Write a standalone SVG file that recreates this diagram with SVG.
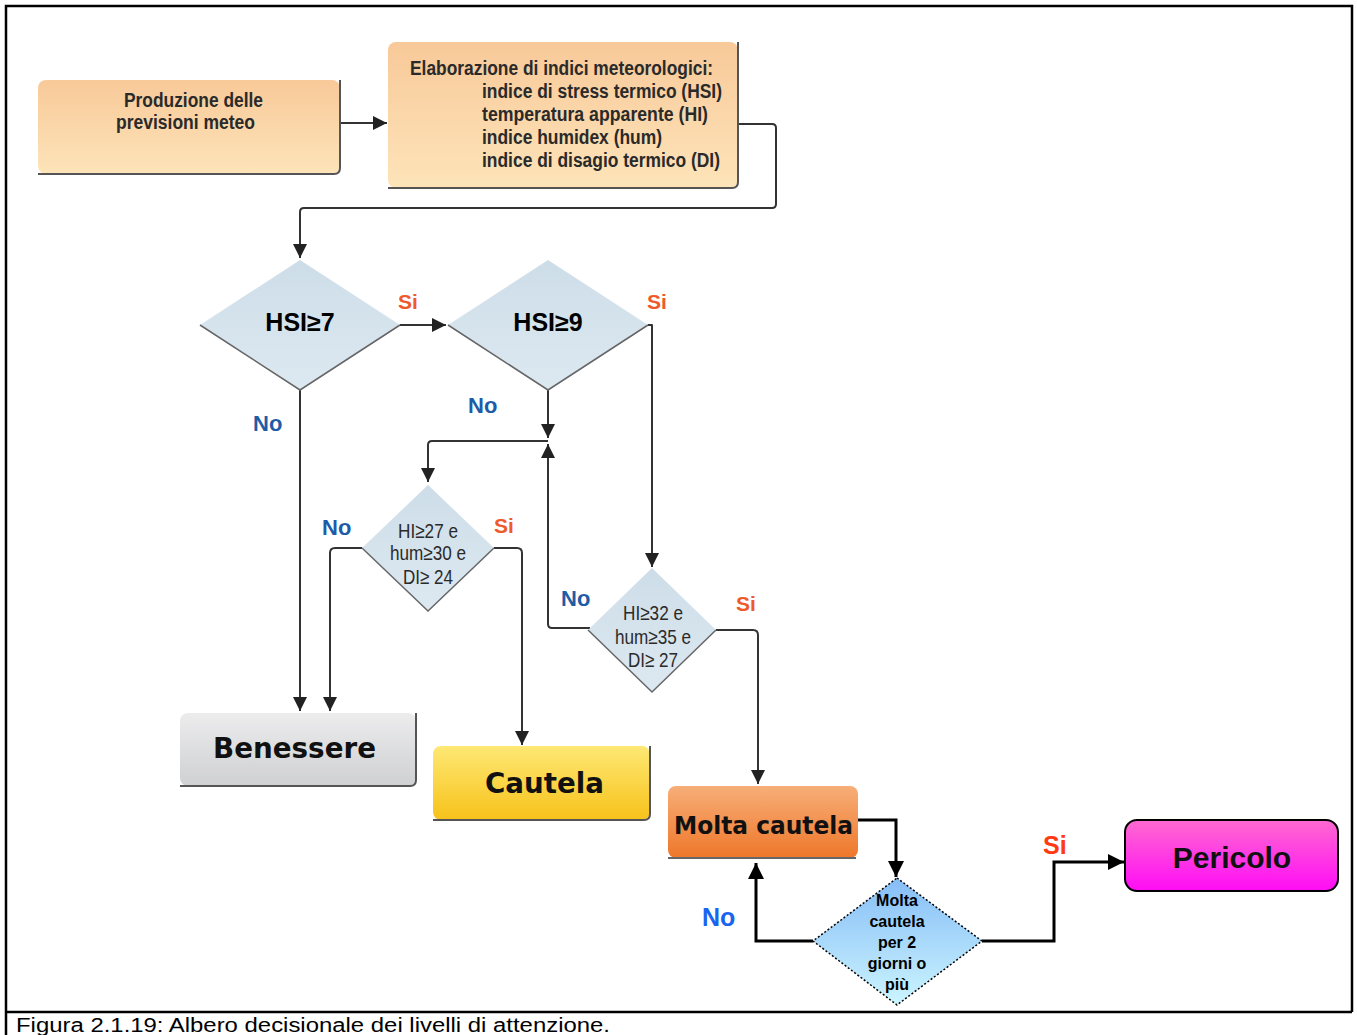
<svg xmlns="http://www.w3.org/2000/svg" width="1357" height="1035" viewBox="0 0 1357 1035">
<defs>
<linearGradient id="gPeach" x1="0" y1="0" x2="0" y2="1"><stop offset="0" stop-color="#f8c999"/><stop offset="1" stop-color="#fde4b9"/></linearGradient>
<linearGradient id="gDia" x1="0" y1="0" x2="0" y2="1"><stop offset="0" stop-color="#cddde8"/><stop offset="1" stop-color="#dde9f1"/></linearGradient>
<linearGradient id="gGrey" x1="0" y1="0" x2="0" y2="1"><stop offset="0" stop-color="#ececed"/><stop offset="1" stop-color="#cfd0d2"/></linearGradient>
<linearGradient id="gYel" x1="0" y1="0" x2="0" y2="1"><stop offset="0" stop-color="#fee874"/><stop offset="1" stop-color="#f7c21a"/></linearGradient>
<linearGradient id="gOr" x1="0" y1="0" x2="0" y2="1"><stop offset="0" stop-color="#f7ae78"/><stop offset="1" stop-color="#ee772a"/></linearGradient>
<linearGradient id="gBlue" x1="0" y1="0" x2="0" y2="1"><stop offset="0" stop-color="#86bdf6"/><stop offset="1" stop-color="#ccf5ff"/></linearGradient>
<linearGradient id="gMag" x1="0" y1="0" x2="0" y2="1"><stop offset="0" stop-color="#ff6ad0"/><stop offset="1" stop-color="#ff0cf6"/></linearGradient>
<marker id="ah" viewBox="0 0 10 10" refX="10" refY="5" markerWidth="14" markerHeight="14" markerUnits="userSpaceOnUse" orient="auto"><path d="M0,0 L10,5 L0,10 z" fill="#222"/></marker>
<marker id="ahB" viewBox="0 0 10 10" refX="10" refY="5" markerWidth="16" markerHeight="16" markerUnits="userSpaceOnUse" orient="auto"><path d="M0,0 L10,5 L0,10 z" fill="#000"/></marker>
</defs>
<style>
.cond{font-family:"Liberation Sans",Arial,sans-serif;font-weight:bold;fill:#2a2a2a;}
.dtx{font-family:"Liberation Sans",Arial,sans-serif;font-size:21px;fill:#2a2a2a;}
.cl{fill:none;stroke:#333;stroke-width:2;stroke-linejoin:round;}
.cb{fill:none;stroke:#000;stroke-width:3;}
.shadow{fill:none;stroke:#555;stroke-width:2;}
.dia{fill:url(#gDia);}
.diaEdge{fill:none;stroke:#666;stroke-width:1.5;}
.hsi{font-family:"Liberation Sans",Arial,sans-serif;font-weight:bold;font-size:25px;fill:#000;}
.si{font-family:"Liberation Sans",Arial,sans-serif;font-weight:bold;font-size:21px;fill:#ee5a2c;}
.no{font-family:"Liberation Sans",Arial,sans-serif;font-weight:bold;font-size:22px;fill:#1f5ca6;}
.lvl{font-family:"DejaVu Sans",Verdana,sans-serif;font-weight:bold;fill:#111;}
</style>
<rect x="0" y="0" width="1357" height="1035" fill="#fff"/>
<g id="frame">
<path d="M6,1035 L6,6 L1352,6 L1352,1012" fill="none" stroke="#000" stroke-width="2.5"/>
<line x1="6" y1="1012" x2="1352" y2="1012" stroke="#000" stroke-width="2.5"/>
<text x="16" y="1032" font-family="Liberation Sans,Arial,sans-serif" font-size="20" fill="#000" textLength="594" lengthAdjust="spacingAndGlyphs">Figura 2.1.19: Albero decisionale dei livelli di attenzione.</text>
</g>
<g id="connectors">
<line class="cl" x1="340" y1="123" x2="387" y2="123" marker-end="url(#ah)"/>
<path class="cl" d="M738,124 L772,124 Q776,124 776,128 L776,204 Q776,208 772,208 L304,208 Q300,208 300,212 L300,258" marker-end="url(#ah)"/>
<line class="cl" x1="400" y1="325" x2="446" y2="325" marker-end="url(#ah)"/>
<line class="cl" x1="300" y1="390" x2="300" y2="711" marker-end="url(#ah)"/>
<line class="cl" x1="548" y1="390" x2="548" y2="438" marker-end="url(#ah)"/>
<path class="cl" d="M548,441 L432,441 Q428,441 428,445 L428,482" marker-end="url(#ah)"/>
<path class="cl" d="M590,628 L552,628 Q548,628 548,624 L548,444" marker-end="url(#ah)"/>
<path class="cl" d="M648,325 L652,325 L652,567" marker-end="url(#ah)"/>
<path class="cl" d="M362,548 L335,548 Q330,548 330,553 L330,711" marker-end="url(#ah)"/>
<path class="cl" d="M494,548 L517,548 Q522,548 522,553 L522,745" marker-end="url(#ah)"/>
<path class="cl" d="M716,630 L753,630 Q758,630 758,635 L758,784" marker-end="url(#ah)"/>
<path class="cb" d="M858,820 L896,820 L896,877" marker-end="url(#ahB)"/>
<path class="cb" d="M813,941 L756,941 L756,863" marker-end="url(#ahB)"/>
<path class="cb" d="M982,941 L1054,941 L1054,862 L1124,862" marker-end="url(#ahB)"/>
<text class="si" x="398" y="309">Si</text>
<text class="si" x="647" y="309">Si</text>
<text class="no" x="253" y="431">No</text>
<text class="no" x="468" y="413">No</text>
<text class="no" x="322" y="535">No</text>
<text class="si" x="494" y="533">Si</text>
<text class="no" x="561" y="606">No</text>
<text class="si" x="736" y="611">Si</text>
<text x="702" y="926" font-family="Liberation Sans,Arial,sans-serif" font-weight="bold" font-size="25" fill="#1a64f0">No</text>
<text x="1043" y="854" font-family="Liberation Sans,Arial,sans-serif" font-weight="bold" font-size="25" fill="#ff3a10">Si</text>
</g>
<g id="n-produzione">
<rect x="38" y="80" width="302" height="94" rx="8" fill="url(#gPeach)"/>
<path class="shadow" d="M340,80 L340,168 Q340,174 334,174 L38,174"/>
<text class="cond" font-size="20"><tspan x="124" y="107" textLength="139" lengthAdjust="spacingAndGlyphs">Produzione delle</tspan><tspan x="116" y="129" textLength="139" lengthAdjust="spacingAndGlyphs">previsioni meteo</tspan></text>
</g>
<g id="n-elaborazione">
<rect x="388" y="42" width="350" height="146" rx="8" fill="url(#gPeach)"/>
<path class="shadow" d="M738,42 L738,182 Q738,188 732,188 L388,188"/>
<text class="cond" font-size="20"><tspan x="410" y="75" textLength="303" lengthAdjust="spacingAndGlyphs">Elaborazione di indici meteorologici:</tspan><tspan x="482" y="98" textLength="240" lengthAdjust="spacingAndGlyphs">indice di stress termico (HSI)</tspan><tspan x="482" y="121" textLength="226" lengthAdjust="spacingAndGlyphs">temperatura apparente (HI)</tspan><tspan x="482" y="144" textLength="180" lengthAdjust="spacingAndGlyphs">indice humidex (hum)</tspan><tspan x="482" y="167" textLength="238" lengthAdjust="spacingAndGlyphs">indice di disagio termico (DI)</tspan></text>
</g>
<g id="n-hsi7">
<polygon class="dia" points="300,260 400,325 300,390 200,325"/>
<path class="diaEdge" d="M200,325 L300,390 L400,325"/>
<text class="hsi" x="300" y="331" text-anchor="middle">HSI≥7</text>
</g>
<g id="n-hsi9">
<polygon class="dia" points="548,260 648,325 548,390 448,325"/>
<path class="diaEdge" d="M448,325 L548,390 L648,325"/>
<text class="hsi" x="548" y="331" text-anchor="middle">HSI≥9</text>
</g>
<g id="n-d27">
<polygon class="dia" points="428,485 494,548 428,611 362,548"/>
<path class="diaEdge" d="M362,548 L428,611 L494,548"/>
<text class="dtx"><tspan x="398" y="538" textLength="60" lengthAdjust="spacingAndGlyphs">HI≥27 e</tspan><tspan x="390" y="560" textLength="76" lengthAdjust="spacingAndGlyphs">hum≥30 e</tspan><tspan x="403" y="584" textLength="50" lengthAdjust="spacingAndGlyphs">DI≥ 24</tspan></text>
</g>
<g id="n-d32">
<polygon class="dia" points="652,568 716,630 652,692 588,630"/>
<path class="diaEdge" d="M588,630 L652,692 L716,630"/>
<text class="dtx"><tspan x="623" y="620" textLength="60" lengthAdjust="spacingAndGlyphs">HI≥32 e</tspan><tspan x="615" y="644" textLength="76" lengthAdjust="spacingAndGlyphs">hum≥35 e</tspan><tspan x="628" y="667" textLength="50" lengthAdjust="spacingAndGlyphs">DI≥ 27</tspan></text>
</g>
<g id="n-benessere">
<rect x="180" y="713" width="236" height="73" rx="8" fill="url(#gGrey)"/>
<path class="shadow" d="M416,713 L416,780 Q416,786 410,786 L180,786"/>
<text class="lvl" x="213" y="758" font-size="28" textLength="163" lengthAdjust="spacingAndGlyphs">Benessere</text>
</g>
<g id="n-cautela">
<rect x="433" y="746" width="217" height="74" rx="8" fill="url(#gYel)"/>
<path class="shadow" d="M650,746 L650,814 Q650,820 644,820 L433,820"/>
<text class="lvl" x="485" y="793" font-size="28" textLength="119" lengthAdjust="spacingAndGlyphs">Cautela</text>
</g>
<g id="n-molta">
<rect x="668" y="786" width="190" height="72" rx="8" fill="url(#gOr)"/>
<line x1="668" y1="858" x2="856" y2="858" stroke="#666" stroke-width="2"/>
<text class="lvl" x="674" y="834" font-size="25" textLength="179" lengthAdjust="spacingAndGlyphs">Molta cautela</text>
</g>
<g id="n-molta2">
<polygon points="897,878 982,941 897,1005 813,941" fill="url(#gBlue)" stroke="#000" stroke-width="1.5" stroke-dasharray="2,2"/>
<text font-family="Liberation Sans,Arial,sans-serif" font-weight="bold" font-size="16" fill="#000" text-anchor="middle"><tspan x="897" y="906">Molta</tspan><tspan x="897" y="927">cautela</tspan><tspan x="897" y="948">per 2</tspan><tspan x="897" y="969">giorni o</tspan><tspan x="897" y="990">più</tspan></text>
</g>
<g id="n-pericolo">
<rect x="1125" y="820" width="213" height="71" rx="12" fill="url(#gMag)" stroke="#000" stroke-width="2"/>
<text x="1232" y="868" font-family="Liberation Sans,Arial,sans-serif" font-weight="bold" font-size="30" fill="#111" text-anchor="middle">Pericolo</text>
</g>
</svg>
